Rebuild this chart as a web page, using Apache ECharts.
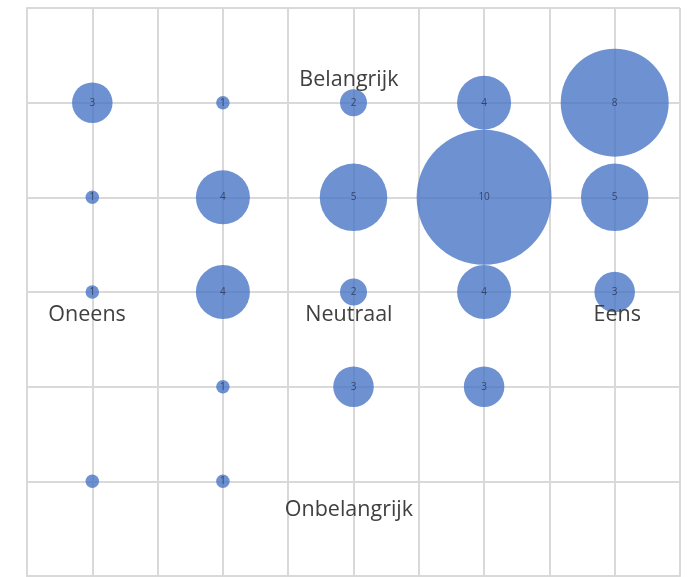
<!DOCTYPE html>
<html>
<head>
<meta charset="utf-8">
<script src="https://cdn.jsdelivr.net/npm/echarts@6/dist/echarts.min.js"></script>
<style>
  html, body { margin: 0; padding: 0; background: #ffffff; }
  #chart { width: 689px; height: 577px; }
</style>
</head>
<body>
<div id="chart"></div>
<script>
// Bubble grid: agreement (x) versus importance (y), bubble width = count
const bubbleX      = [1, 3, 5, 7, 9,  1, 3, 5, 7, 9,  1, 3, 5, 7, 9,  3, 5, 7,  1, 3];
const bubbleY      = [5, 5, 5, 5, 5,  4, 4, 4, 4, 4,  3, 3, 3, 3, 3,  2, 2, 2,  1, 1];
const bubbleCount  = [3, 1, 2, 4, 8,  1, 4, 5, 10, 5, 1, 4, 2, 4, 3,  1, 3, 3,  1, 1];
const bubbleShowLabel = [true, true, true, true, true, true, true, true, true, true,
                         true, true, true, true, true, true, true, true, false, true];

// Quadrant captions, placed in axis units
const captionText = ['Belangrijk', 'Oneens', 'Neutraal', 'Eens', 'Onbelangrijk'];
const captionX    = [4.93, 0.92, 4.93, 9.04, 4.93];
const captionY    = [5.24, 2.76, 2.76, 2.76, 0.70];

const xMin = 0, xMax = 10, xStep = 1;
const yMin = 0, yMax = 6, yStep = 1;

const gridLine = { color: '#d9d9d9', width: 2 };

const bubbles = bubbleX.map((x, i) => ({
  value: [x, bubbleY[i], bubbleCount[i]],
  label: { show: bubbleShowLabel[i] }
}));

const captions = captionText.map((t, i) => ({ value: [captionX[i], captionY[i]], name: t }));

const chart = echarts.init(document.getElementById('chart'), null, { renderer: 'canvas' });
chart.setOption({
  animation: false,
  backgroundColor: '#ffffff',
  grid: { left: 27, right: 9, top: 8, bottom: 1, containLabel: false },
  xAxis: {
    type: 'value', min: xMin, max: xMax, interval: xStep,
    axisLine: { show: true, lineStyle: gridLine },
    axisTick: { show: false },
    axisLabel: { show: false },
    splitLine: { show: true, lineStyle: gridLine }
  },
  yAxis: {
    type: 'value', min: yMin, max: yMax, interval: yStep,
    axisLine: { show: true, lineStyle: gridLine },
    axisTick: { show: false },
    axisLabel: { show: false },
    splitLine: { show: true, lineStyle: gridLine }
  },
  series: [
    {
      type: 'scatter',
      data: bubbles,
      symbol: 'circle',
      symbolSize: v => v[2] * 13.5,
      itemStyle: { color: '#4472C4', opacity: 0.78 },
      label: {
        show: true,
        position: 'inside',
        formatter: p => String(p.value[2]),
        fontFamily: 'Open Sans',
        fontSize: 10,
        color: '#26304a',
        textBorderWidth: 0
      },
      z: 2
    },
    {
      type: 'scatter',
      data: captions,
      symbolSize: 0,
      itemStyle: { opacity: 1 },
      label: {
        show: true,
        position: 'inside',
        formatter: p => p.name,
        fontFamily: 'Open Sans',
        fontSize: 21.5,
        color: '#404040',
        textBorderWidth: 0
      },
      z: 3
    }
  ]
});
</script>
</body>
</html>
